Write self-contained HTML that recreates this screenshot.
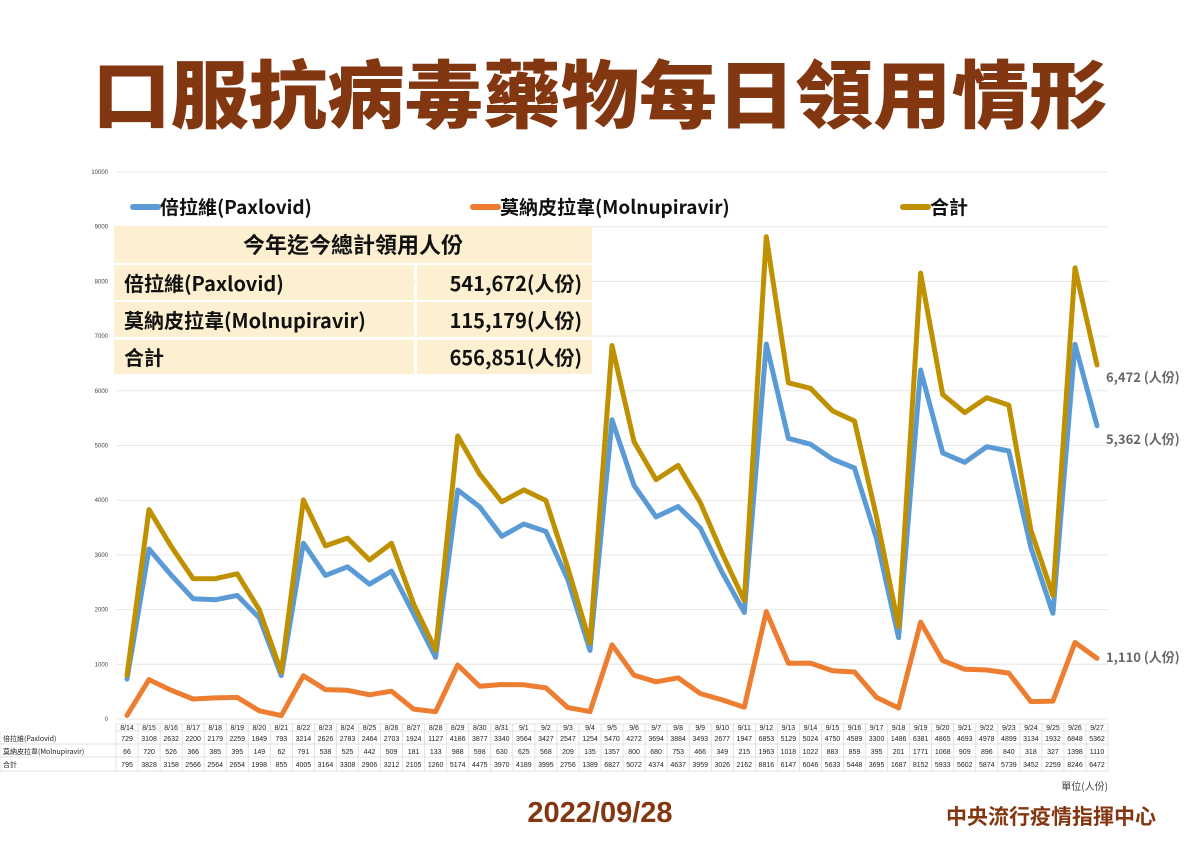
<!DOCTYPE html>
<html><head><meta charset="utf-8"><style>
body{margin:0;background:#fff;width:1200px;height:849px;overflow:hidden;font-family:"Liberation Sans","Noto Sans CJK TC",sans-serif}
</style></head><body>
<svg id="s" width="1200" height="849" xmlns="http://www.w3.org/2000/svg" font-family="Liberation Sans, Noto Sans CJK TC, sans-serif">
<text x="600" y="122" text-anchor="middle" font-size="74" font-weight="900" fill="#833710" font-family="Noto Sans CJK TC, sans-serif" textLength="1015" lengthAdjust="spacingAndGlyphs">口服抗病毒藥物每日領用情形</text>
<g id="g"></g>
<rect x="114" y="226" width="478" height="37" fill="#fdf0d0"/>
<rect x="114" y="265" width="300" height="35" fill="#fdf0d0"/><rect x="417" y="265" width="175" height="35" fill="#fdf0d0"/>
<rect x="114" y="302" width="300" height="35" fill="#fdf0d0"/><rect x="417" y="302" width="175" height="35" fill="#fdf0d0"/>
<rect x="114" y="340" width="300" height="34" fill="#fdf0d0"/><rect x="417" y="340" width="175" height="34" fill="#fdf0d0"/>
<g font-family="Noto Sans CJK TC, sans-serif" font-weight="bold" font-size="20" fill="#111">
<text x="353" y="253" text-anchor="middle" font-size="22">今年迄今總計領用人份</text>
<text x="124" y="291">倍拉維(Paxlovid)</text><text x="582" y="291" text-anchor="end">541,672(人份)</text>
<text x="124" y="328">莫納皮拉韋(Molnupiravir)</text><text x="582" y="328" text-anchor="end">115,179(人份)</text>
<text x="124" y="365">合計</text><text x="582" y="365" text-anchor="end">656,851(人份)</text>
</g>
<g font-family="Noto Sans CJK TC, sans-serif" font-weight="bold" font-size="19" fill="#111">
<line x1="133" y1="207" x2="158" y2="207" stroke="#5b9bd5" stroke-width="6" stroke-linecap="round"/>
<text x="160" y="214">倍拉維(Paxlovid)</text>
<line x1="473" y1="207" x2="498" y2="207" stroke="#ed7d31" stroke-width="6" stroke-linecap="round"/>
<text x="500" y="214">莫納皮拉韋(Molnupiravir)</text>
<line x1="903" y1="207" x2="928" y2="207" stroke="#bf9000" stroke-width="6" stroke-linecap="round"/>
<text x="930" y="214">合計</text>
</g>
<g font-family="Noto Sans CJK TC, sans-serif" font-weight="bold" font-size="13" fill="#666">
<text x="1106" y="382">6,472 (人份)</text>
<text x="1106" y="444">5,362 (人份)</text>
<text x="1106" y="662">1,110 (人份)</text>
<text x="1108" y="790" text-anchor="end" font-weight="normal" font-size="10" fill="#444">單位(人份)</text>
</g>
<text x="600" y="822" text-anchor="middle" font-size="29" font-weight="bold" fill="#833710">2022/09/28</text>
<text x="1051" y="824" text-anchor="middle" font-size="21" font-weight="bold" fill="#833710" font-family="Noto Sans CJK TC, sans-serif">中央流行疫情指揮中心</text>
</svg>
<script>
var P=[729,3108,2632,2200,2179,2259,1849,793,3214,2626,2783,2464,2703,1924,1127,4186,3877,3340,3564,3427,2547,1254,5470,4272,3694,3884,3493,2677,1947,6853,5129,5024,4750,4589,3300,1486,6381,4865,4693,4978,4899,3134,1932,6848,5362];
var M=[66,720,526,366,385,395,149,62,791,538,525,442,509,181,133,988,598,630,625,568,209,135,1357,800,680,753,466,349,215,1963,1018,1022,883,859,395,201,1771,1068,909,896,840,318,327,1398,1110];
var T=P.map((v,i)=>v+M[i]);
var D=[];for(var d=14;d<=31;d++)D.push("8/"+d);for(d=1;d<=27;d++)D.push("9/"+d);
var x0=127,st=970/44,y0=719,sc=547/10000,h="";
for(var k=0;k<=10;k++){var y=y0-k*1000*sc;h+='<line x1="116" y1="'+y+'" x2="1108" y2="'+y+'" stroke="#e6e6e6" stroke-width="1"/><text x="108" y="'+(y+2)+'" text-anchor="end" font-size="6" fill="#444">'+(k*1000)+'</text>';}
function pl(a,c){return '<polyline fill="none" stroke="'+c+'" stroke-width="5" stroke-linejoin="round" stroke-linecap="round" points="'+a.map((v,i)=>(x0+i*st).toFixed(1)+','+(y0-v*sc).toFixed(1)).join(' ')+'"/>';}
h+=pl(M,"#ed7d31")+pl(P,"#5b9bd5")+pl(T,"#bf9000");
var L=["倍拉維(Paxlovid)","莫納皮拉韋(Molnupiravir)","合計"],R=[P,M,T];
var tl=116,rows=[724,731,744,757,771];
h+='<g stroke="#d8d8d8" stroke-width="0.7">';
h+='<line x1="'+tl+'" y1="724" x2="1108" y2="724"/>';
for(var r=1;r<5;r++)h+='<line x1="'+(r==1?tl:0)+'" y1="'+rows[r]+'" x2="1108" y2="'+rows[r]+'"/>';
h+='<line x1="0" y1="731" x2="0" y2="771"/>';
for(var i=0;i<=45;i++){var xx=tl+i*st;h+='<line x1="'+xx+'" y1="724" x2="'+xx+'" y2="771"/>';}
h+='</g><g font-size="7" fill="#222" text-anchor="middle">';
for(i=0;i<45;i++){var cx=tl+(i+0.5)*st;h+='<text x="'+cx+'" y="730">'+D[i]+'</text>';for(r=0;r<3;r++)h+='<text x="'+cx+'" y="'+(rows[r+1]+10)+'">'+R[r][i]+'</text>';}
h+='</g><g font-size="7" fill="#222" font-family="Noto Sans CJK TC, sans-serif">';
for(r=0;r<3;r++)h+='<text x="3" y="'+(rows[r+1]+10)+'">'+L[r]+'</text>';
h+='</g>';
document.getElementById("g").innerHTML=h;
</script>
</body></html>
